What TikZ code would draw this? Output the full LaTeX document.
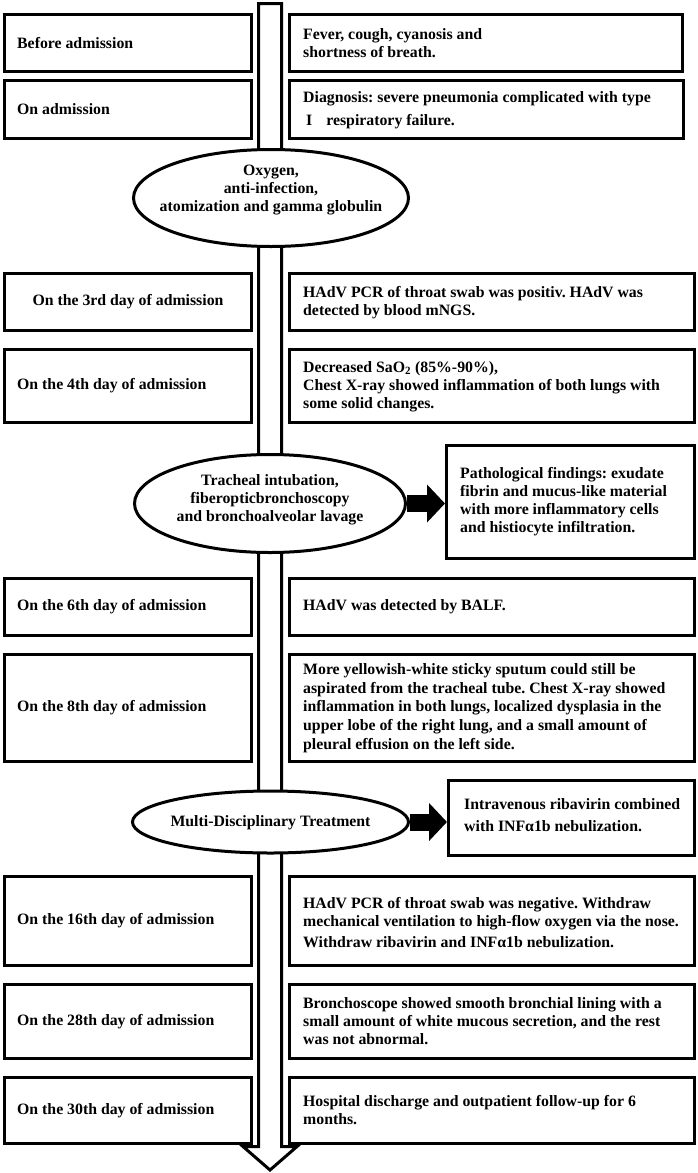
\documentclass[tikz,border=0pt]{standalone}
\usepackage{fontspec}
\setmainfont{Liberation Serif}
\usetikzlibrary{shapes.geometric,arrows.meta,calc}
\frenchspacing
\begin{document}
\begin{tikzpicture}[x=1pt,y=-1pt,
  txt/.style={inner sep=0pt,font=\fontsize{15.8}{18}\selectfont\bfseries},
  ltxt/.style={txt,anchor=west,align=left},
  rtxt/.style={txt,anchor=west,align=left},
  ctxt/.style={txt,align=center},
  boxs/.style={draw,rectangle,line width=3pt,inner sep=0pt,fill=white},
  lbox/.style={boxs,minimum width=247pt},
  rbox/.style={boxs,minimum width=405pt},
  ell/.style={draw,ellipse,line width=3pt,inner sep=0pt,fill=white},
  blk/.style={line width=17pt,-{Triangle[width=37pt,length=18pt]}},
  shaftline/.style={draw,line width=3pt,fill=white,line join=miter}
]
\useasboundingbox (0,0) rectangle (697,1173);
% timeline arrow
\coordinate (s1) at (258.5,3.5);
\coordinate (s2) at (281.5,3.5);
\coordinate (s3) at (281.5,1146.5);
\coordinate (s4) at (297,1146.5);
\coordinate (s5) at (270,1170);
\coordinate (s6) at (243,1146.5);
\coordinate (s7) at (258.5,1146.5);
\path[shaftline] (s1) -- (s2) -- (s3) -- (s4) -- (s5) -- (s6) -- (s7) -- cycle;

% row 1
\node[lbox,minimum height=57pt] (l1) at (128,43) {};
\node[ltxt] (l1t) at (17,43) {Before admission};
\node[boxs,minimum width=393pt,minimum height=57pt] (r1) at (486,43) {};
\node[rtxt] (r1t) at (303,43) {Fever, cough, cyanosis and\\shortness of breath.};
% row 2
\node[lbox,minimum height=58pt] (l2) at (128,109.5) {};
\node[ltxt] (l2t) at (17,109.5) {On admission};
\node[boxs,minimum width=394pt,minimum height=58pt] (r2) at (486.5,109.5) {};
\node[rtxt] (r2t) at (303,110) {Diagnosis: severe pneumonia complicated with type\\[5pt]\hspace{3pt}I\hspace{14pt}respiratory failure.};
% ellipse 1
\node[ell,minimum width=275pt,minimum height=97pt] (e1) at (271,198) {};
\node[ctxt] (e1t) at (271,190) {Oxygen,\\anti-infection,\\atomization and gamma globulin};
% row 3
\node[lbox,minimum height=57pt] (l3) at (128,302) {};
\node[ctxt] (l3t) at (128,302) {On the 3rd day of admission};
\node[rbox,minimum height=57pt] (r3) at (492,302) {};
\node[rtxt] (r3t) at (303,302.5) {HAdV PCR of throat swab was positiv. HAdV was\\detected by blood mNGS.};
% row 4
\node[lbox,minimum height=73pt] (l4) at (128,386) {};
\node[ltxt] (l4t) at (17,386) {On the 4th day of admission};
\node[rbox,minimum height=73pt] (r4) at (492,386) {};
\node[rtxt] (r4t) at (303,386.5) {Decreased SaO\textsubscript{2} (85\%-90\%),\\Chest X-ray showed inflammation of both lungs with\\some solid changes.};
% ellipse 2 + pathology
\node[ell,minimum width=271pt,minimum height=98pt] (e2) at (270,503.5) {};
\node[ctxt] (e2t) at (270,500) {Tracheal intubation,\\fiberopticbronchoscopy\\and bronchoalveolar lavage};
\node[boxs,minimum width=248pt,minimum height=113pt] (p) at (570.5,502) {};
\node[rtxt] (pt) at (460,502) {Pathological findings: exudate\\fibrin and mucus-like material\\with more inflammatory cells\\and histiocyte infiltration.};
\draw[blk] (e2.east) -- (e2.east -| p.west);
% row 6
\node[lbox,minimum height=57pt] (l6) at (128,607) {};
\node[ltxt] (l6t) at (17,607) {On the 6th day of admission};
\node[rbox,minimum height=57pt] (r6) at (492,607) {};
\node[rtxt] (r6t) at (303,607) {HAdV was detected by BALF.};
% row 8
\node[lbox,minimum height=107pt] (l8) at (128,708) {};
\node[ltxt] (l8t) at (17,708) {On the 8th day of admission};
\node[rbox,minimum height=107pt] (r8) at (492,708) {};
\node[rtxt,font=\fontsize{15.8}{18.8}\selectfont\bfseries] (r8t) at (303,708) {More yellowish-white sticky sputum could still be\\aspirated from the tracheal tube. Chest X-ray showed\\inflammation in both lungs, localized dysplasia in the\\upper lobe of the right lung, and a small amount of\\pleural effusion on the left side.};
% ellipse 3 + treatment
\node[ell,minimum width=276pt,minimum height=62pt] (e3) at (270.5,822) {};
\node[ctxt] (e3t) at (270.5,823) {Multi-Disciplinary Treatment};
\node[boxs,minimum width=246pt,minimum height=75pt] (inf) at (571.5,818) {};
\node[rtxt] (inft) at (464,815) {Intravenous ribavirin combined\\[4pt]with INFα1b nebulization.};
\draw[blk] (e3.east) -- (e3.east -| inf.west);
% row 16
\node[lbox,minimum height=89pt] (l16) at (128,921) {};
\node[ltxt] (l16t) at (17,921) {On the 16th day of admission};
\node[rbox,minimum height=89pt] (r16) at (492,921) {};
\node[rtxt] (r16t) at (303,923) {HAdV PCR of throat swab was negative. Withdraw\\mechanical ventilation to high-flow oxygen via the nose.\\[3pt]Withdraw ribavirin and INFα1b nebulization.};
% row 28
\node[lbox,minimum height=74pt] (l28) at (128,1021.5) {};
\node[ltxt] (l28t) at (17,1021.5) {On the 28th day of admission};
\node[rbox,minimum height=74pt] (r28) at (492,1021.5) {};
\node[rtxt] (r28t) at (303,1021.5) {Bronchoscope showed smooth bronchial lining with a\\small amount of white mucous secretion, and the rest\\was not abnormal.};
% row 30
\node[lbox,minimum height=66pt] (l30) at (128,1110.5) {};
\node[ltxt] (l30t) at (17,1110.5) {On the 30th day of admission};
\node[rbox,minimum height=66pt] (r30) at (492,1110.5) {};
\node[rtxt] (r30t) at (303,1110.5) {Hospital discharge and outpatient follow-up for 6\\months.};
\end{tikzpicture}
\end{document}
